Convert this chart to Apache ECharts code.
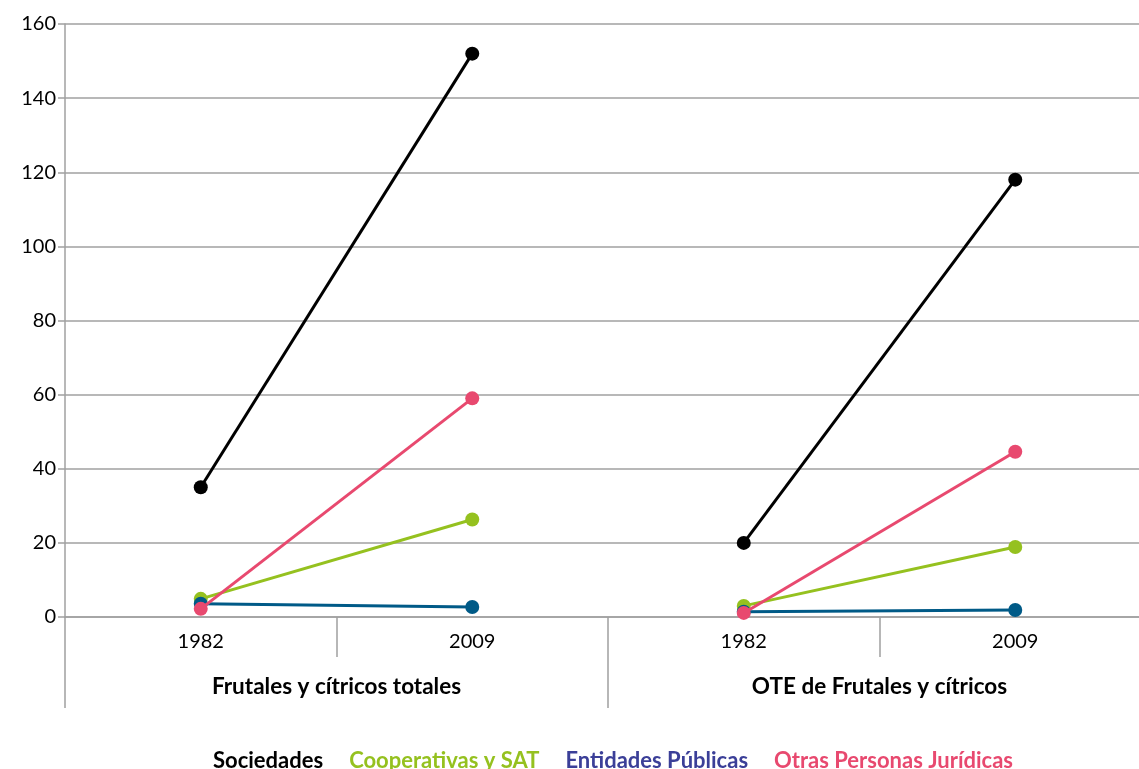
<!DOCTYPE html>
<html><head><meta charset="utf-8">
<script src="https://cdn.jsdelivr.net/npm/echarts@6/dist/echarts.min.js"></script>
<style>html,body{margin:0;padding:0;background:#fff;overflow:hidden}#c{width:1160px;height:769px}</style>
</head><body><div id="c"></div>
<script>
const years = ['1982', '2009', '1982 ', '2009 '];
const groups = ['Frutales y cítricos totales', 'OTE de Frutales y cítricos'];
const yTicks = [0, 20, 40, 60, 80, 100, 120, 140, 160];
const seriesNames = ['Sociedades', 'Cooperativas y SAT', 'Entidades Públicas', 'Otras Personas Jurídicas'];
// values per group: [1982, 2009]
const sociedadesG1 = [35, 152];
const sociedadesG2 = [20, 118];
const cooperativasG1 = [4.9, 26.3];
const cooperativasG2 = [3.0, 18.9];
const entidadesG1 = [3.6, 2.7];
const entidadesG2 = [1.4, 1.9];
const otrasG1 = [2.2, 59];
const otrasG2 = [1.1, 44.6];

const lineColors = ['#000000', '#95c11f', '#005a87', '#e8496f'];
const legendColors = ['#000000', '#95c11f', '#3b3f98', '#e8496f'];
const pairs = [[sociedadesG1, sociedadesG2], [cooperativasG1, cooperativasG2], [entidadesG1, entidadesG2], [otrasG1, otrasG2]];

const series = [];
pairs.forEach((p, i) => {
  const g1 = [p[0][0], p[0][1], null, null];
  const g2 = [null, null, p[1][0], p[1][1]];
  [g1, g2].forEach(d => series.push({
    name: seriesNames[i], type: 'line', data: d, xAxisIndex: 0,
    symbol: 'circle', symbolSize: 14, connectNulls: false,
    lineStyle: { color: lineColors[i], width: 3 },
    itemStyle: { color: lineColors[i] }, z: 2 + i, animation: false
  }));
});

const chart = echarts.init(document.getElementById('c'));
chart.setOption({
  animation: false,
  textStyle: { fontFamily: 'Lato' },
  grid: { left: 65, top: 24, right: 9, bottom: 152 },
  legend: {
    top: 745, left: 203, itemWidth: 0, itemHeight: 0, itemGap: 21,
    icon: 'rect', selectedMode: false,
    data: seriesNames.map((n, i) => ({ name: n, textStyle: { color: legendColors[i], fontWeight: 'bold', fontSize: 22, fontFamily: 'Lato' } }))
  },
  xAxis: [
    {
      type: 'category', data: years, boundaryGap: true, position: 'bottom',
      axisLine: { lineStyle: { color: '#a0a0a0', width: 1.5 } },
      axisTick: { show: true, length: 40, lineStyle: { color: '#a0a0a0', width: 1.5 }, interval: 0 },
      axisLabel: { color: '#000', fontSize: 20, margin: 15, fontFamily: 'Lato',
        formatter: v => v.trim() }
    },
    {
      type: 'category', data: groups, boundaryGap: true, position: 'bottom', offset: 0,
      axisLine: { show: false },
      axisTick: { show: true, length: 91, lineStyle: { color: '#a0a0a0', width: 1.5 }, interval: 0 },
      axisLabel: { color: '#000', fontSize: 22.5, fontWeight: 'bold', margin: 58, fontFamily: 'Lato' }
    }
  ],
  yAxis: {
    type: 'value', min: 0, max: 160, interval: 20,
    axisLine: { show: true, lineStyle: { color: '#a0a0a0', width: 1.5 } },
    axisTick: { show: true, length: 7, lineStyle: { color: '#a0a0a0', width: 1.5 } },
    axisLabel: { color: '#000', fontSize: 20, margin: 9, fontFamily: 'Lato',
      formatter: v => yTicks.includes(v) ? String(v) : '' },
    splitLine: { lineStyle: { color: '#a0a0a0', width: 1.5 } }
  },
  series: series
});
</script></body></html>
